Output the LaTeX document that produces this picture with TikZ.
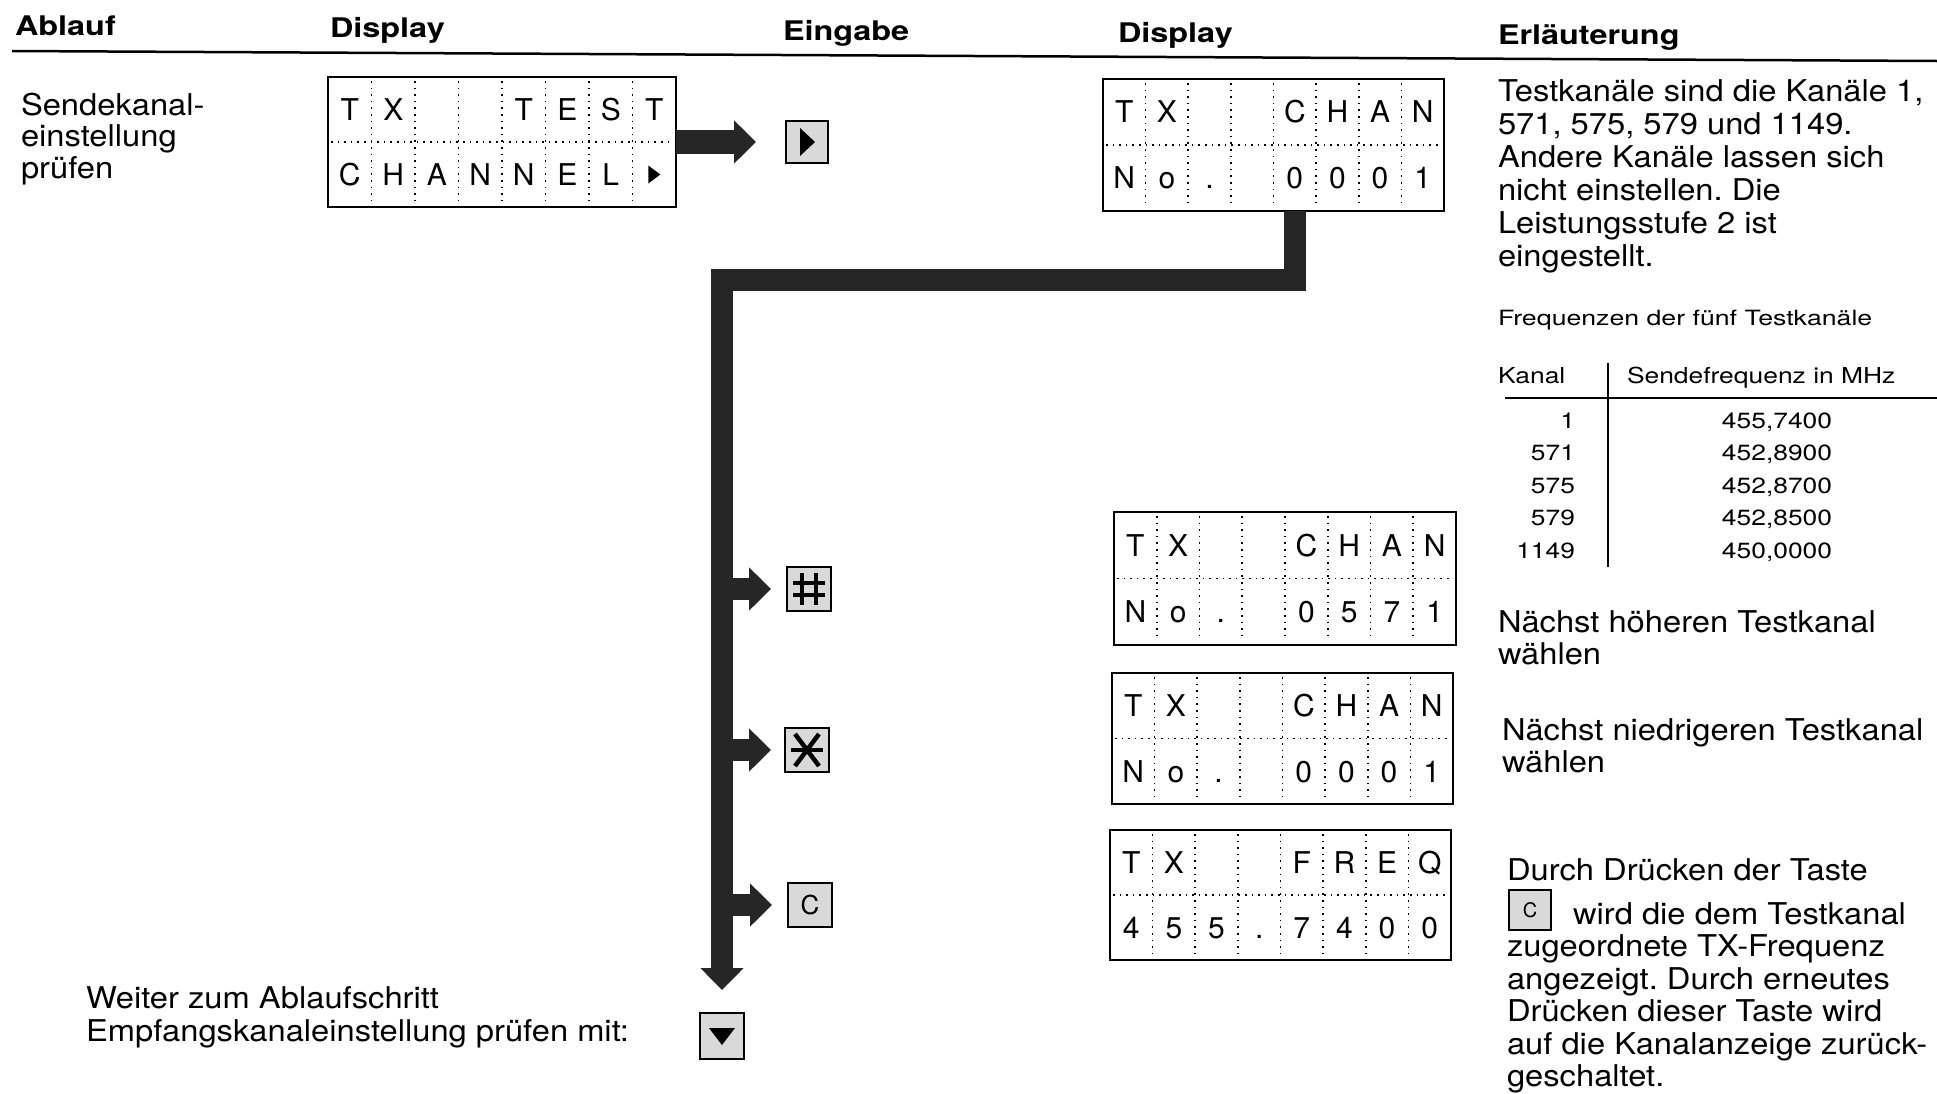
\documentclass[tikz,border=0pt]{standalone}
\usepackage{fontspec}
\setmainfont{TeX Gyre Heros}
\newfontfamily\bodyfont{TeX Gyre Heros}[FakeStretch=1.09]
\newfontfamily\headfont{TeX Gyre Heros}[FakeStretch=1.2]
\newfontfamily\tabfont{TeX Gyre Heros}[FakeStretch=1.2]
\newfontfamily\capfont{TeX Gyre Heros}[FakeStretch=1.27]
\newfontfamily\lcdfont{TeX Gyre Heros}
\usetikzlibrary{arrows.meta,calc}
\frenchspacing

\tikzset{
  txt/.style={inner sep=0pt, outer sep=0pt, anchor=base west},
  body/.style={txt, font=\bodyfont\fontsize{30}{30}\selectfont},
  head/.style={txt, font=\headfont\bfseries\fontsize{27}{27}\selectfont},
  tab/.style={txt, font=\tabfont\fontsize{22}{22}\selectfont},
  caption/.style={txt, font=\capfont\fontsize{21}{21}\selectfont},
  lcd/.style={draw, line width=2.5pt, inner sep=0pt, outer sep=0pt, fill=white},
  lcddiv/.style={line width=1.6pt, dash pattern=on 1.6pt off 5pt},
  lcdch/.style={inner sep=0pt, outer sep=0pt, anchor=center, text height=21.5pt,
    text depth=0pt, font=\lcdfont\fontsize{30}{30}\selectfont},
  key/.style={draw, line width=2.5pt, fill=black!15, inner sep=0pt, outer sep=0pt,
    minimum width=44pt, minimum height=44pt},
  keyglyph/.style={line width=4.5pt},
  flow/.style={draw=black!85, line width=22pt, line join=miter,
    -{Triangle[width=42pt,length=22pt]}},
  rule/.style={line width=2.5pt},
}

% LCD panel: name, left, top, width, height, upper row, lower row
\newcommand\lcdpanel[7]{%
  \node[lcd, minimum width=#4pt, minimum height=#5pt] (#1) at ({#2+#4/2},{#3+#5/2}) {};
  \draw[lcddiv] ({#2+3},{#3+#5/2}) -- ({#2+#4-3},{#3+#5/2});
  \foreach \k in {1,...,7}
    \draw[lcddiv] ({#2+\k*#4/8},{#3+4}) -- ({#2+\k*#4/8},{#3+#5-4});
  \foreach \c [count=\k] in {#6}
    \node[lcdch] (#1-a\k) at ({#2+(\k-0.5)*#4/8},{#3+#5/4}) {\c};
  \foreach \c [count=\k] in {#7}
    \node[lcdch] (#1-b\k) at ({#2+(\k-0.5)*#4/8},{#3+3*#5/4}) {\c};
}

\begin{document}
\begin{tikzpicture}[x=1pt,y=-1pt]
\useasboundingbox (0,0) rectangle (1937,1093);
\fill[white] (0,0) rectangle (1937,1093);

% column headings
\node[head] (hAblauf) at (15,35) {Ablauf};
\node[head] (hDisp1) at (330,37) {Display};
\node[head] (hEing) at (783,40) {Eingabe};
\node[head] (hDisp2) at (1118,42) {Display};
\node[head] (hErl) at (1498,44) {Erläuterung};
\coordinate (rule-l) at (12,51);
\coordinate (rule-r) at (1937,61);
\draw[rule] (rule-l) -- (rule-r);

% step name
\node[body] (s1) at (21,115) {Sendekanal-};
\node[body] (s2) at (21,146.5) {einstellung};
\node[body] (s3) at (21,178) {prüfen};

% displays
\lcdpanel{d1}{328}{77}{348}{130}{T,X,{},{},T,E,S,T}{C,H,A,N,N,E,L,{}}
\fill ([shift={(-6,-9)}]d1-b8.center) -- ([shift={(6,0)}]d1-b8.center)
  -- ([shift={(-6,9)}]d1-b8.center) -- cycle;
\lcdpanel{d2}{1103}{79}{341}{132}{T,X,{},{},C,H,A,N}{N,o,.,{},0,0,0,1}
\lcdpanel{d3}{1114}{512}{342}{133}{T,X,{},{},C,H,A,N}{N,o,.,{},0,5,7,1}
\lcdpanel{d4}{1112}{673}{341}{131}{T,X,{},{},C,H,A,N}{N,o,.,{},0,0,0,1}
\lcdpanel{d5}{1110}{830}{341}{130}{T,X,{},{},F,R,E,Q}{4,5,5,.,7,4,0,0}

% keys
\node[key, minimum width=42pt, minimum height=42pt] (kr) at (807,142) {};
\fill ([shift={(-7,-14)}]kr.center) -- ([shift={(8,0)}]kr.center)
  -- ([shift={(-7,14)}]kr.center) -- cycle;
\node[key] (kh) at (809,589) {};
\draw[keyglyph] ([shift={(-7,-16)}]kh.center) -- ([shift={(-7,16)}]kh.center);
\draw[keyglyph] ([shift={(7,-16)}]kh.center) -- ([shift={(7,16)}]kh.center);
\draw[keyglyph] ([shift={(-16,-6)}]kh.center) -- ([shift={(16,-6)}]kh.center);
\draw[keyglyph] ([shift={(-16,6)}]kh.center) -- ([shift={(16,6)}]kh.center);
\node[key] (ks) at (807,750) {};
\draw[keyglyph] ([shift={(-12,-16)}]ks.center) -- ([shift={(12,16)}]ks.center);
\draw[keyglyph] ([shift={(12,-16)}]ks.center) -- ([shift={(-12,16)}]ks.center);
\draw[keyglyph] ([shift={(-16,0)}]ks.center) -- ([shift={(16,0)}]ks.center);
\node[key, font=\lcdfont\fontsize{26}{26}\selectfont] (kc) at (810,905) {C};
\node[key, minimum height=46pt] (kd) at (722,1036) {};
\fill ([shift={(-13,-8)}]kd.center) -- ([shift={(13,-8)}]kd.center)
  -- ([shift={(0,9)}]kd.center) -- cycle;

% flow arrows
\draw[flow, line width=24pt, shorten >=30pt] (d1.east) -- (kr.west);
\coordinate (spine-top) at ($(d2.south west)!0.5625!(d2.south east)$);
\coordinate (bend) at (722,280);
\draw[flow, shorten >=23pt] (spine-top) |- (bend) -- (bend |- kd.north);
\draw[flow, shorten >=16pt] (kh.west -| bend) -- (kh.west);
\draw[flow, shorten >=14pt] (ks.west -| bend) -- (ks.west);
\draw[flow, shorten >=16pt] (kc.west -| bend) -- (kc.west);

% explanation column
\foreach \t [count=\i from 0] in {{Testkanäle sind die Kanäle 1,},{571, 575, 579 und 1149.},
  {Andere Kanäle lassen sich},{nicht einstellen. Die},{Leistungsstufe 2 ist},{eingestellt.}}
  \node[body] (p1-\i) at (1498,{101+33*\i}) {\t};

\node[caption] (cap) at (1498,325) {Frequenzen der fünf Testkanäle};

% frequency table
\node[tab] (th1) at (1498,383) {Kanal};
\node[tab] (th2) at (1627,383) {Sendefrequenz in MHz};
\draw[line width=2pt] (1505,398) -- (1937,398);
\draw[line width=2pt] (1608,363) -- (1608,567);
\node[tab, anchor=base east] (c1) at (1575,428) {1};
\node[tab, anchor=base east] (c2) at (1575,460.5) {571};
\node[tab, anchor=base east] (c3) at (1575,493) {575};
\node[tab, anchor=base east] (c4) at (1575,525.5) {579};
\node[tab, anchor=base east] (c5) at (1575,558) {1149};
\node[tab, anchor=base] (f1) at (1777,428) {455,7400};
\node[tab, anchor=base] (f2) at (1777,460.5) {452,8900};
\node[tab, anchor=base] (f3) at (1777,493) {452,8700};
\node[tab, anchor=base] (f4) at (1777,525.5) {452,8500};
\node[tab, anchor=base] (f5) at (1777,558) {450,0000};

\node[body] (up1) at (1498,632) {Nächst höheren Testkanal};
\node[body] (up2) at (1498,664) {wählen};
\node[body] (dn1) at (1502,740) {Nächst niedrigeren Testkanal};
\node[body] (dn2) at (1502,772) {wählen};

\node[body] (q1) at (1507,880) {Durch Drücken der Taste};
\node[key, minimum width=42pt, minimum height=40pt, font=\lcdfont\fontsize{20}{20}\selectfont] (kci) at (1530,910) {C};
\node[body] (q2) at (1573,924) {wird die dem Testkanal};
\foreach \t [count=\i from 0] in {{zugeordnete TX-Frequenz},{angezeigt. Durch erneutes},
  {Drücken dieser Taste wird},{auf die Kanalanzeige zurück-},{geschaltet.}}
  \node[body] (q3-\i) at (1507,{956.5+32.5*\i}) {\t};

% next step
\node[body] (w1) at (86,1008) {Weiter zum Ablaufschritt};
\node[body] (w2) at (86,1041) {Empfangskanaleinstellung prüfen mit:};
\end{tikzpicture}
\end{document}
